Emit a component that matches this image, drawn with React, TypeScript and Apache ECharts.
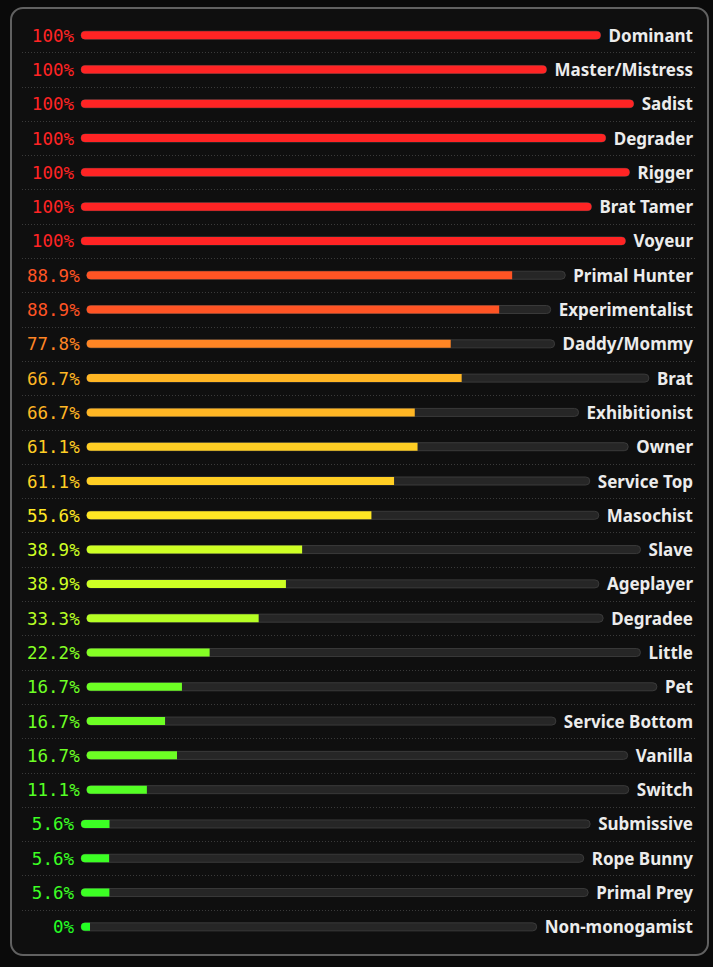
import React, { useEffect, useRef } from "react";
import * as echarts from "echarts";

const categories = [
  "Dominant", "Master/Mistress", "Sadist", "Degrader", "Rigger", "Brat Tamer", "Voyeur",
  "Primal Hunter", "Experimentalist", "Daddy/Mommy", "Brat", "Exhibitionist", "Owner",
  "Service Top", "Masochist", "Slave", "Ageplayer", "Degradee", "Little", "Pet",
  "Service Bottom", "Vanilla", "Switch", "Submissive", "Rope Bunny", "Primal Prey", "Non-monogamist",
];
const values = [
  100, 100, 100, 100, 100, 100, 100, 88.9, 88.9, 77.8, 66.7, 66.7, 61.1, 61.1, 55.6,
  38.9, 38.9, 33.3, 22.2, 16.7, 16.7, 16.7, 11.1, 5.6, 5.6, 5.6, 0,
];
const pctLabels = values.map((v) => (v === 100 || v === 0 ? `${v}%` : `${v.toFixed(1)}%`));

const LEFT_FONT = "17.5px 'DejaVu Sans Mono', 'Liberation Mono', monospace";
const RIGHT_FONT = "bold 17px 'Noto Sans', 'Open Sans', sans-serif";

let measureCtx: CanvasRenderingContext2D | null = null;
function measure(text: string, font: string): number {
  if (!measureCtx) {
    measureCtx = document.createElement("canvas").getContext("2d");
  }
  if (!measureCtx) return text.length * 9;
  measureCtx.font = font;
  return measureCtx.measureText(text).width;
}

function colorFor(v: number): string {
  const hue = 120 * (1 - v / 100);
  return `hsl(${hue.toFixed(1)}, 100%, 57%)`;
}

export default function App() {
  const ref = useRef<HTMLDivElement>(null);
  useEffect(() => {
    if (!ref.current) return;
    const chart = echarts.init(ref.current, null, { renderer: "svg" });
    const n = categories.length;
    const option: any = {
      animation: false,
      backgroundColor: "#0a0a0a",
      graphic: [
        {
          type: "rect",
          z: -10,
          shape: { x: 11, y: 8, width: 697, height: 947, r: 12 },
          style: { fill: "#0f0f0f", stroke: "#616161", lineWidth: 2 },
          silent: true,
        },
      ],
      grid: { left: 20, right: 20, top: 18, height: 926 },
      xAxis: { type: "value", min: 0, max: 100, show: false },
      yAxis: { type: "category", data: categories, inverse: true, show: false },
      series: [
        {
          type: "custom",
          encode: { x: 0, y: 1 },
          data: values.map((v, i) => [v, i]),
          renderItem: (params: any, api: any) => {
            const v = api.value(0);
            const i = api.value(1);
            const cy = api.coord([0, i])[1];
            const pct = pctLabels[i];
            const name = categories[i];
            const wL = measure(pct, LEFT_FONT);
            const wR = measure(name, RIGHT_FONT);
            const leftEnd = Math.max(74, 27 + wL);
            const tStart = leftEnd + 7;
            const tEnd = 693 - wR - 8;
            const len = tEnd - tStart;
            const fillW = Math.max(9, (len * v) / 100);
            const col = colorFor(v);
            const children: any[] = [
              {
                type: "rect",
                shape: { x: tStart, y: cy - 4, width: len, height: 8, r: 4 },
                style: { fill: "#262626", stroke: "#3a3a3a", lineWidth: 1 },
              },
              {
                type: "rect",
                shape: { x: tStart, y: cy - 4, width: fillW, height: 8, r: v >= 100 ? 4 : [4, 0, 0, 4] },
                style: { fill: col },
              },
              {
                type: "text",
                style: {
                  text: pct, x: leftEnd, y: cy + 0.5,
                  align: "right", verticalAlign: "middle",
                  textAlign: "right", textVerticalAlign: "middle",
                  fill: col, font: LEFT_FONT,
                },
              },
              {
                type: "text",
                style: {
                  text: name, x: 693, y: cy,
                  align: "right", verticalAlign: "middle",
                  textAlign: "right", textVerticalAlign: "middle",
                  fill: "#ececec", font: RIGHT_FONT,
                },
              },
            ];
            if (i < n - 1) {
              const sy = Math.round(cy + 17.15) + 0.5;
              children.push({
                type: "line",
                shape: { x1: 22, y1: sy, x2: 697, y2: sy },
                style: { stroke: "#3a3a3a", lineWidth: 1, lineDash: [1, 2] },
              });
            }
            return { type: "group", children };
          },
        },
      ],
    };
    chart.setOption(option);
    return () => chart.dispose();
  }, []);
  return (
    <div
      ref={ref}
      style={{ position: "fixed", left: 0, top: 0, width: 713, height: 967, background: "#0a0a0a" }}
    />
  );
}
